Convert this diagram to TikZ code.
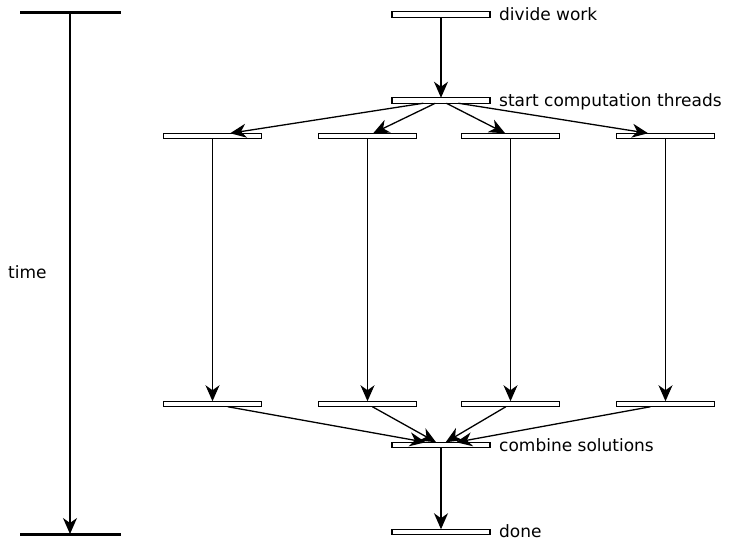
\documentclass[tikz,border=0pt]{standalone}
\usepackage{fontspec}
\setmainfont{DejaVu Sans}
\usetikzlibrary{arrows.meta}
\begin{document}
\begin{tikzpicture}[x=1pt,y=-1pt,
  bar/.style={draw, fill=white, line width=1.3pt, minimum width=98pt, minimum height=5.5pt, inner sep=0pt, outer sep=0pt},
  flow/.style={line width=1.3pt, -{Stealth[length=16pt,width=14pt,inset=5pt]}},
  lbl/.style={inner sep=0pt, anchor=base west, text depth=0pt, font=\fontsize{17}{20}\selectfont},
  axisline/.style={line width=3pt}]
\useasboundingbox (0,0) rectangle (729,540);
% bars
\node[bar] (d) at (441,14.5) {};
\node[bar] (s) at (441,100.5) {};
\node[bar] (a1) at (212.5,136) {};
\node[bar] (a2) at (367.5,136) {};
\node[bar] (a3) at (510.5,136) {};
\node[bar] (a4) at (665.5,136) {};
\node[bar] (b1) at (212.5,404) {};
\node[bar] (b2) at (367.5,404) {};
\node[bar] (b3) at (510.5,404) {};
\node[bar] (b4) at (665.5,404) {};
\node[bar] (c) at (441,445) {};
\node[bar] (e) at (441,532) {};
% labels
\node[lbl] (ld) at ([xshift=9pt,yshift=-6pt]d.east) {divide work};
\node[lbl] (ls) at ([xshift=9pt,yshift=-6pt]s.east) {start computation threads};
\node[lbl] (lc) at ([xshift=9pt,yshift=-6pt]c.east) {combine solutions};
\node[lbl] (le) at ([xshift=9pt,yshift=-5.5pt]e.east) {done};
% connectors
\draw[flow] (d) -- (s);
\foreach \i in {1,...,4} {
  \draw[flow] (s) -- (a\i);
  \draw[flow] (a\i) -- (b\i);
  \draw[flow] (b\i) -- (c);
}
\draw[flow] (c) -- (e);
% time axis
\coordinate (t1) at (70,12.5);
\coordinate (t2) at (70,534);
\draw[axisline] (20,12.5) -- (121,12.5);
\draw[axisline] (20,534) -- (121,534);
\draw[flow] (t1) -- (t2);
\node[lbl] (tl) at (8,279) {time};
\end{tikzpicture}
\end{document}
